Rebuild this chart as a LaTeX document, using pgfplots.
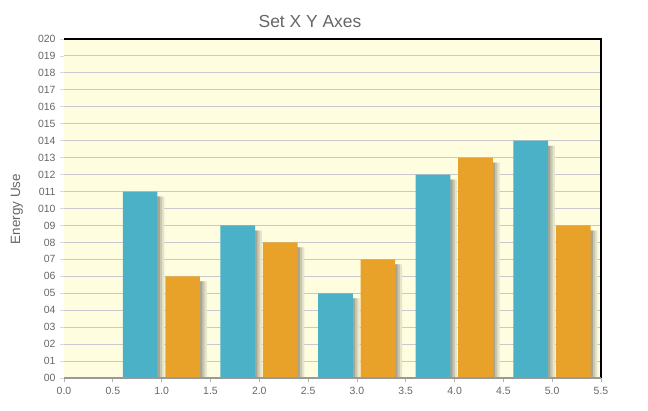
\documentclass[border=0pt]{standalone}
\usepackage{fontspec}
\setmainfont{Liberation Sans}
\usepackage{pgfplots}
\pgfplotsset{compat=1.18}
\usepackage{pgfplotstable}
\definecolor{bgy}{HTML}{FFFDE0}
\definecolor{cblue}{HTML}{4AB1C6}
\definecolor{corange}{HTML}{E8A22A}
\definecolor{txt}{HTML}{666666}
\definecolor{gridc}{HTML}{C8C8CE}
\definecolor{sh1}{HTML}{E6E4CB}
\definecolor{sh2}{HTML}{C9C7B0}
\definecolor{sh3}{HTML}{A8A693}
\pgfplotstableread{
x v
0.78 11
1.78 9
2.78 5
3.78 12
4.78 14
}\blue
\pgfplotstableread{
x v
1.215 6
2.215 8
3.215 7
4.215 13
5.215 9
}\orange
\begin{document}
\begin{tikzpicture}[x=1bp,y=1bp]
\path[use as bounding box] (0,0) rectangle (648,410);
\node[txt, font=\fontsize{17.5}{20}\selectfont] at (310,389) {Set X Y Axes};
\node[txt, rotate=90, font=\fontsize{13.5}{15}\selectfont] at (17,201) {Energy Use};
\begin{axis}[
  at={(64bp,32bp)}, anchor=south west,
  scale only axis, width=537bp, height=339bp,
  xmin=0, xmax=5.5, ymin=0, ymax=20,
  axis line style={draw=none},
  axis background/.style={fill=bgy},
  xtick pos=bottom, ytick pos=left,
  xtick={0,0.5,...,5.5},
  xticklabels={0.0,0.5,1.0,1.5,2.0,2.5,3.0,3.5,4.0,4.5,5.0,5.5},
  ytick={0,1,...,20},
  yticklabels={00,01,02,03,04,05,06,07,08,09,010,011,012,013,014,015,016,017,018,019,020},
  ymajorgrids, grid style={gridc, line width=1bp},
  tick align=outside, major tick length=4bp,
  xtick style={gray!60, line width=0.8bp},
  ytick style={gray!30, line width=0.8bp},
  ticklabel style={txt, font=\fontsize{10.5}{12}\selectfont},
  xticklabel style={yshift=-2bp},
  yticklabel style={xshift=-1bp},
  ybar, bar width=0.355, bar shift=0pt,
  clip=false,
]
\addplot[draw=none, fill=sh1, bar shift=0.07] table[x=x, y expr=\thisrow{v}-0.3] {\blue};
\addplot[draw=none, fill=sh1, bar shift=0.07] table[x=x, y expr=\thisrow{v}-0.3] {\orange};
\addplot[draw=none, fill=sh2, bar shift=0.047] table[x=x, y expr=\thisrow{v}-0.3] {\blue};
\addplot[draw=none, fill=sh2, bar shift=0.047] table[x=x, y expr=\thisrow{v}-0.3] {\orange};
\addplot[draw=none, fill=sh3, bar shift=0.024] table[x=x, y expr=\thisrow{v}-0.3] {\blue};
\addplot[draw=none, fill=sh3, bar shift=0.024] table[x=x, y expr=\thisrow{v}-0.3] {\orange};
\addplot[draw=none, fill=cblue] table[x=x, y=v] {\blue};
\addplot[draw=none, fill=corange] table[x=x, y=v] {\orange};
\draw[black, line width=2bp] (rel axis cs:0,1) -- (rel axis cs:1,1) -- (rel axis cs:1,0);
\draw[gray!80, line width=2bp] (rel axis cs:0,0) -- (rel axis cs:1,0);
\end{axis}
\end{tikzpicture}
\end{document}
